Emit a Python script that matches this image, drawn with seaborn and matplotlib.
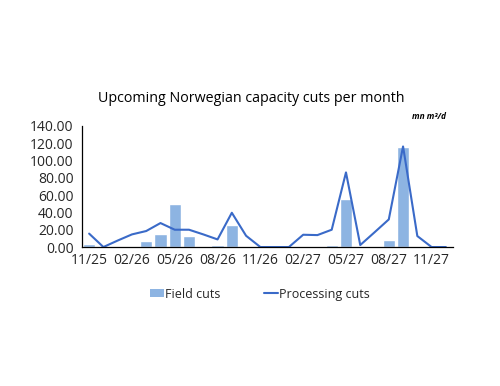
import numpy as np
import pandas as pd
import matplotlib
matplotlib.use("Agg")
import matplotlib.pyplot as plt
import seaborn as sns
from matplotlib.patches import Patch
from matplotlib.lines import Line2D

months = ["11/25", "12/25", "01/26", "02/26", "03/26", "04/26", "05/26", "06/26", "07/26",
          "08/26", "09/26", "10/26", "11/26", "12/26", "01/27", "02/27", "03/27", "04/27",
          "05/27", "06/27", "07/27", "08/27", "09/27", "10/27", "11/27", "12/27"]
field_cuts = [3.0, 0.0, 0.0, 0.5, 6.5, 15.5, 49.5, 12.5, 0.0, 2.3, 25.5, 0.5, 0.0, 0.0,
              0.0, 0.3, 0.5, 2.0, 55.0, 0.0, 0.0, 7.7, 115.0, 0.0, 0.0, 0.0]
processing_cuts = [15.5, 0.0, 7.5, 14.6, 18.5, 27.7, 20.0, 20.0, 14.6, 8.8, 39.6, 13.0, 0.0, 0.0,
                   0.0, 14.2, 13.8, 20.0, 86.2, 2.3, 17.0, 31.9, 116.2, 12.7, 0.0, 0.0]
y_ticks = [0, 20, 40, 60, 80, 100, 120, 140]
x_tick_labels = ["11/25", "02/26", "05/26", "08/26", "11/26", "02/27", "05/27", "08/27", "11/27"]

bar_color = "#8DB4E2"
line_color = "#3A6AC8"

sns.set_theme(style="white")
plt.rcParams["font.family"] = ["Open Sans", "DejaVu Sans"]

df = pd.DataFrame({"month": months, "field": field_cuts, "proc": processing_cuts,
                   "idx": np.arange(len(months))})

fig = plt.figure(figsize=(5.0, 3.86), dpi=100)
ax = fig.add_axes([0.164, 0.36, 0.742, 0.314])

sns.barplot(data=df, x="month", y="field", order=months, color=bar_color, width=0.86,
            ax=ax, saturation=1)
sns.lineplot(data=df, x="idx", y="proc", color=line_color, linewidth=1.5, ax=ax)

ax.set_xlim(-0.5, len(months) - 0.5)
ax.set_ylim(0, 140)
ax.set_yticks(y_ticks)
ax.set_yticklabels([f"{v:.2f}" for v in y_ticks], fontsize=10)
pos = [months.index(m) for m in x_tick_labels]
ax.set_xticks(pos)
ax.set_xticklabels(x_tick_labels, fontsize=10)
ax.tick_params(axis="x", length=0, pad=4)
ax.set_xticks([p - 0.5 for p in pos], minor=True)
ax.tick_params(axis="x", which="minor", length=4, width=0.8, color="black", direction="out")
ax.tick_params(axis="y", length=4, width=0.8, color="black", direction="out", pad=2)
ax.set_xlabel("")
ax.set_ylabel("")
for s in ["top", "right"]:
    ax.spines[s].set_visible(False)
for s in ["left", "bottom"]:
    ax.spines[s].set_color("black")
    ax.spines[s].set_linewidth(0.9)

fig.text(0.502, 0.745, "Upcoming Norwegian capacity cuts per month", ha="center",
         va="center", fontsize=10.3, color="black")
fig.text(0.857, 0.697, "mn m³/d", ha="center", va="center", fontsize=6,
         style="italic", fontweight="bold", color="black")

handles = [Patch(facecolor=bar_color, edgecolor="none", label="Field cuts"),
           Line2D([0], [0], color=line_color, lw=1.5, label="Processing cuts")]
fig.legend(handles=handles, loc="center", bbox_to_anchor=(0.52, 0.238), ncol=2,
           frameon=False, fontsize=9, handlelength=1.1, handletextpad=0.1,
           columnspacing=3.5, handleheight=0.6)

fig.savefig("out.png", dpi=100, facecolor="white")
